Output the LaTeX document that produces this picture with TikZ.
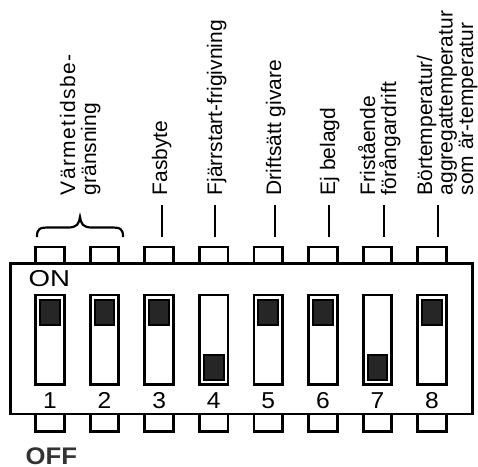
\documentclass[tikz,border=0pt]{standalone}
\usepackage{fontspec}
\setmainfont{Liberation Sans}
\newfontfamily\wide[FakeStretch=1.07]{Liberation Sans}
\newfontfamily\wider[FakeStretch=1.2]{Liberation Sans}
\newfontfamily\spaced[LetterSpace=7]{Liberation Sans}
\begin{document}
\begin{tikzpicture}[x=1pt,y=-1pt,
  tabbox/.style={draw, line width=2.8pt, minimum width=28.6pt, inner sep=0pt, fill=white},
  slotbox/.style={draw, line width=2.8pt, minimum width=28.6pt, minimum height=89.5pt, inner sep=0pt, fill=white},
  knobbox/.style={draw, line width=2pt, fill=black!85, minimum width=19.7pt, minimum height=25pt, inner sep=0pt},
  lbl/.style={rotate=90, anchor=base west, inner sep=0pt, font=\fontsize{21}{21}\selectfont},
  digit/.style={anchor=base, inner sep=0pt, font=\wide\fontsize{23}{23}\selectfont},
  tick/.style={line width=2pt}
]
\useasboundingbox (0,0) rectangle (478,466);
% body
\node[draw, line width=2.8pt, minimum width=461.5pt, minimum height=150.7pt, inner sep=0pt] (body) at (241.55,338.65) {};
% tabs, slots, knobs, digits
\foreach \i in {1,...,8} {
  \pgfmathsetmacro\cx{50+54.57*(\i-1)}
  \node[tabbox, minimum height=16pt] (tt\i) at (\cx,255) {};
  \node[tabbox, minimum height=17.7pt] (bt\i) at (\cx,422.85) {};
  \node[slotbox] (s\i) at (\cx,339.75) {};
  \node[digit] (n\i) at (\cx,408.3) {\i};
}
\foreach \i in {1,2,3,5,6,8} {
  \pgfmathsetmacro\cx{50+54.57*(\i-1)}
  \node[knobbox] (k\i) at (\cx,312.2) {};
}
\foreach \i in {4,7} {
  \pgfmathsetmacro\cx{50+54.57*(\i-1)}
  \node[knobbox] (k\i) at (\cx,367) {};
}
\node[anchor=base west, inner sep=0pt, font=\wider\fontsize{23}{23}\selectfont] (on) at (28.5,286.5) {ON};
\node[anchor=base west, inner sep=0pt, text=black!80, font=\wide\fontsize{24}{24}\selectfont\bfseries] (off) at (25.5,464.5) {OFF};
% labels
\node[lbl, font=\spaced\fontsize{21}{21}\selectfont] (l1a) at (75,195.5) {Värmetidsbe-};
\node[lbl] (l1b) at (96,195.5) {gränsning};
\node[lbl] (l3) at (167,195.5) {Fasbyte};
\node[lbl] (l4) at (222,195.5) {Fjärrstart-frigivning};
\node[lbl] (l5) at (281,195.5) {Driftsätt givare};
\node[lbl] (l6) at (335,195.5) {Ej belagd};
\node[lbl] (l7a) at (375,195.5) {Fristående};
\node[lbl] (l7b) at (396,195.5) {förångardrift};
\node[lbl] (l8a) at (432,195.5) {Börtemperatur/};
\node[lbl] (l8b) at (452.5,195.5) {aggregattemperatur};
\node[lbl] (l8c) at (473,195.5) {som är-temperatur};
% ticks
\foreach \i/\x in {3/162,4/215,5/275,6/329,7/384,8/438} {
  \coordinate (ta\i) at (\x,205);
  \coordinate (tb\i) at (\x,237);
  \draw[tick] (ta\i) -- (tb\i);
}
% brace
\coordinate (bl) at (37,237);
\coordinate (bm) at (80,217);
\coordinate (br) at (123,237);
\draw[line width=2.2pt] (bl) .. controls (37,228) and (40,227.5) .. (50,227.5) -- (68,227.5)
  .. controls (77,227.5) and (79,224) .. (bm)
  .. controls (81,224) and (83,227.5) .. (92,227.5) -- (110,227.5)
  .. controls (120,227.5) and (123,228) .. (br);
\end{tikzpicture}
\end{document}
